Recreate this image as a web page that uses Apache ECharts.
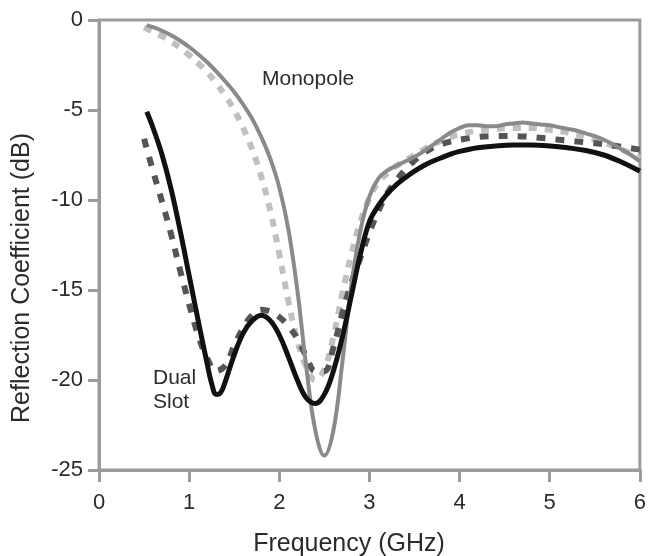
<!DOCTYPE html>
<html>
<head>
<meta charset="utf-8">
<script src="https://cdn.jsdelivr.net/npm/echarts@6/dist/echarts.min.js"></script>
<style>html,body{margin:0;padding:0;background:#fff;}#c{width:649px;height:556px;}</style>
</head>
<body>
<div id="c"></div>
<script>
// Frequency (GHz) / Reflection coefficient (dB)
var monoSolidX = [0.53,0.6,0.7,0.8,0.9,1.0,1.1,1.2,1.3,1.4,1.5,1.6,1.7,1.8,1.9,2.0,2.1,2.2,2.3,2.4,2.5,2.6,2.7,2.8,2.9,3.0,3.1,3.2,3.3,3.4,3.5,3.6,3.7,3.8,3.9,4.0,4.1,4.2,4.3,4.4,4.5,4.6,4.7,4.8,4.9,5.0,5.1,5.2,5.3,5.4,5.5,5.6,5.7,5.8,5.9,6.0];
var monoSolidY = [-0.28,-0.4,-0.6,-0.85,-1.15,-1.5,-1.9,-2.35,-2.85,-3.4,-4.0,-4.7,-5.5,-6.5,-7.7,-9.3,-11.6,-15.0,-19.3,-22.8,-24.2,-22.8,-19.0,-14.7,-11.7,-9.8,-8.8,-8.35,-8.1,-7.85,-7.6,-7.3,-6.95,-6.6,-6.25,-6.0,-5.85,-5.85,-5.9,-5.9,-5.8,-5.75,-5.7,-5.75,-5.8,-5.85,-5.95,-6.05,-6.15,-6.3,-6.45,-6.65,-6.9,-7.2,-7.5,-7.85];

var monoDashX = [0.5,0.6,0.7,0.8,0.9,1.0,1.1,1.2,1.3,1.4,1.5,1.6,1.7,1.8,1.9,2.0,2.1,2.2,2.3,2.4,2.5,2.6,2.7,2.8,2.9,3.0,3.1,3.2,3.3,3.4,3.5,3.6,3.8,4.0,4.2,4.4,4.6,4.8,5.0,5.2,5.4,5.6,5.8,6.0];
var monoDashY = [-0.42,-0.65,-0.9,-1.2,-1.55,-1.95,-2.4,-2.9,-3.5,-4.2,-5.0,-6.0,-7.2,-8.7,-10.6,-13.0,-15.6,-17.8,-19.3,-20.0,-19.4,-17.6,-15.2,-13.0,-11.2,-9.9,-9.0,-8.5,-8.1,-7.8,-7.5,-7.2,-6.7,-6.35,-6.15,-6.05,-6.0,-6.0,-6.1,-6.25,-6.5,-6.8,-7.2,-7.7];

var dualSolidX = [0.53,0.6,0.7,0.8,0.9,1.0,1.1,1.2,1.25,1.3,1.35,1.4,1.5,1.6,1.7,1.8,1.9,2.0,2.1,2.2,2.3,2.4,2.5,2.6,2.7,2.8,2.9,3.0,3.1,3.2,3.3,3.4,3.5,3.6,3.7,3.8,3.9,4.0,4.2,4.4,4.6,4.8,5.0,5.2,5.4,5.6,5.8,6.0];
var dualSolidY = [-5.1,-6.0,-7.5,-9.4,-11.7,-14.2,-16.7,-19.1,-20.2,-20.8,-20.7,-20.1,-18.6,-17.4,-16.7,-16.4,-16.7,-17.5,-18.7,-20.0,-21.0,-21.3,-20.8,-19.5,-17.6,-15.3,-13.0,-11.2,-10.3,-9.65,-9.15,-8.75,-8.4,-8.1,-7.85,-7.65,-7.45,-7.3,-7.1,-7.0,-6.95,-6.95,-7.0,-7.1,-7.25,-7.5,-7.9,-8.4];

var dualDashX = [0.5,0.6,0.7,0.8,0.9,1.0,1.1,1.2,1.3,1.4,1.5,1.6,1.7,1.8,1.9,2.0,2.1,2.2,2.3,2.4,2.5,2.6,2.7,2.8,2.9,3.0,3.1,3.2,3.3,3.4,3.5,3.6,3.7,3.8,3.9,4.0,4.2,4.4,4.6,4.8,5.0,5.2,5.4,5.6,5.8,6.0];
var dualDashY = [-6.6,-8.4,-10.1,-11.9,-13.9,-15.8,-17.5,-18.8,-19.5,-19.2,-18.1,-17.1,-16.4,-16.1,-16.2,-16.5,-17.0,-17.7,-18.7,-19.5,-19.5,-18.2,-16.3,-14.6,-13.2,-11.8,-10.6,-9.6,-8.9,-8.3,-7.8,-7.4,-7.1,-6.9,-6.75,-6.65,-6.5,-6.45,-6.45,-6.5,-6.6,-6.7,-6.8,-6.9,-7.05,-7.2];

var xTicks = [0,1,2,3,4,5,6];
var yTicks = [0,-5,-10,-15,-20,-25];
var xTitle = 'Frequency (GHz)';
var yTitle = 'Reflection Coefficient (dB)';

function pairs(xs, ys){ return xs.map(function(x,i){ return [x, ys[i]]; }); }

var chart = echarts.init(document.getElementById('c'), null, {renderer:'canvas'});
var axisCol = '#9c9c9c';
var txtCol = '#2b2b2b';
var font = 'Liberation Sans, Arial, sans-serif';
function ser(name, xs, ys, ls){
  return {name:name,type:'line',smooth:0.4,showSymbol:false,data:pairs(xs,ys),lineStyle:ls};
}
chart.setOption({
  animation:false,
  grid:{left:99,right:5,top:20,bottom:86,show:true,borderColor:axisCol,borderWidth:3,backgroundColor:'transparent'},
  xAxis:{type:'value',min:0,max:6,interval:1,
    axisLine:{onZero:false,lineStyle:{color:axisCol,width:3}},
    axisTick:{show:true,length:12,lineStyle:{color:axisCol,width:3}},
    axisLabel:{fontFamily:font,fontSize:22,color:txtCol,margin:22,formatter:function(v){return xTicks.indexOf(v)>=0?String(v):'';}},
    splitLine:{show:false}},
  yAxis:{type:'value',min:-25,max:0,interval:5,
    axisLine:{show:true,onZero:false,lineStyle:{color:axisCol,width:3}},
    axisTick:{show:true,length:11,lineStyle:{color:axisCol,width:3}},
    axisLabel:{fontFamily:font,fontSize:22,color:txtCol,margin:16,formatter:function(v){return yTicks.indexOf(v)>=0?String(v):'';}},
    splitLine:{show:false}},
  series:[
    ser('Monopole meas', monoDashX, monoDashY, {color:'#c0c0c0',width:6,type:[8,8]}),
    ser('Dual meas', dualDashX, dualDashY, {color:'#555555',width:6,type:[9,10]}),
    ser('Monopole', monoSolidX, monoSolidY, {color:'#8a8a8a',width:4}),
    ser('Dual Slot', dualSolidX, dualSolidY, {color:'#111111',width:5})
  ],
  graphic:[
    {type:'text',x:262,y:79,style:{text:'Monopole',font:'21px '+font,fill:txtCol,textVerticalAlign:'middle'}},
    {type:'text',x:153,y:378,style:{text:'Dual',font:'21px '+font,fill:txtCol,textVerticalAlign:'middle'}},
    {type:'text',x:153,y:402,style:{text:'Slot',font:'21px '+font,fill:txtCol,textVerticalAlign:'middle'}},
    {type:'text',x:349,y:544,style:{text:xTitle,font:'25px '+font,fill:txtCol,textAlign:'center',textVerticalAlign:'middle'}},
    {type:'text',x:22,y:278,rotation:Math.PI/2,style:{text:yTitle,font:'25px '+font,fill:txtCol,textAlign:'center',textVerticalAlign:'middle'}}
  ]
});
</script>
</body>
</html>
